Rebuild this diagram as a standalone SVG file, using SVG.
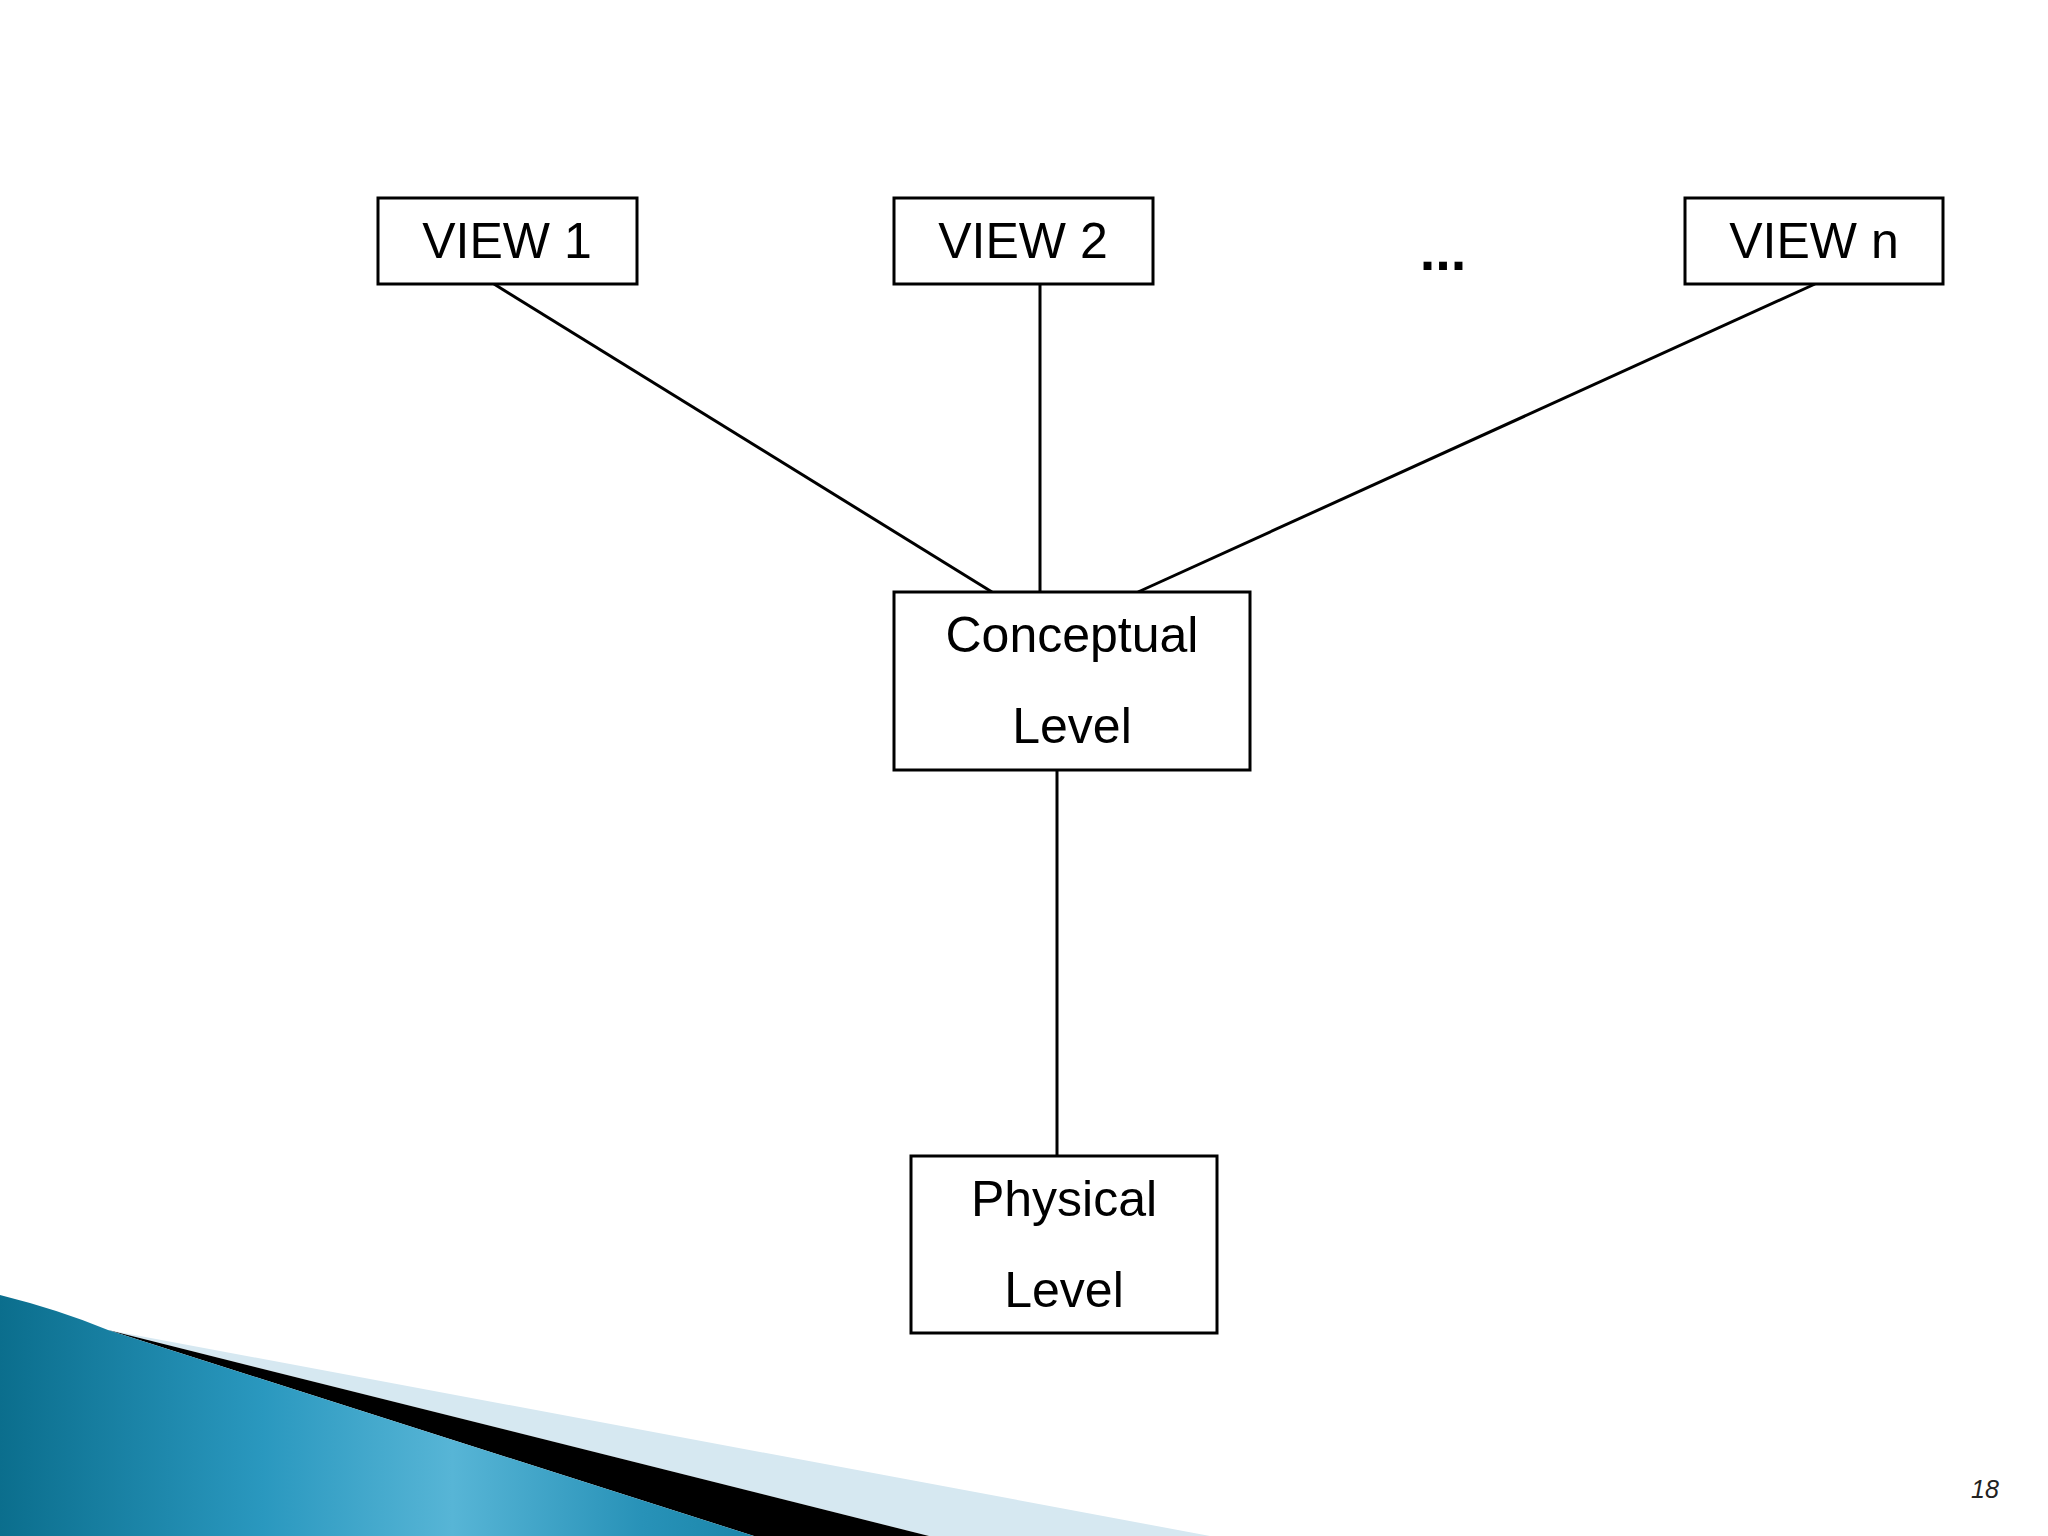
<svg xmlns="http://www.w3.org/2000/svg" width="2048" height="1536" viewBox="0 0 2048 1536">
<style>
.box{fill:#fff;stroke:#000;stroke-width:3}
.lbl{font-family:"Liberation Sans",Arial,sans-serif;font-size:50px;fill:#000;text-anchor:middle}
.conn line{stroke:#000;stroke-width:3}
</style>
<defs>
<linearGradient id="bg" x1="0" y1="0" x2="1" y2="0">
<stop offset="0" stop-color="#0b6e8d"/>
<stop offset="0.35" stop-color="#2a98bf"/>
<stop offset="0.6" stop-color="#57b5d6"/>
<stop offset="0.85" stop-color="#2892b8"/>
<stop offset="1" stop-color="#1a86aa"/>
</linearGradient>
</defs>
<rect width="2048" height="1536" fill="#fff"/>
<g id="decor">
<polygon points="108,1330 1210,1536 929,1536" fill="#d6e8f1"/>
<polygon points="108,1330 929,1536 754,1536" fill="#000"/>
<path d="M0,1295 Q60,1310 108,1330 L754,1536 L0,1536 Z" fill="url(#bg)"/>
</g>
<g class="conn" id="connectors">
<line x1="494" y1="284" x2="992" y2="592"/>
<line x1="1040" y1="284" x2="1040" y2="592"/>
<line x1="1815" y1="284" x2="1138" y2="592"/>
<line x1="1057" y1="770" x2="1057" y2="1156"/>
</g>
<g id="view1">
<rect class="box" x="378" y="198" width="259" height="86"/>
<text class="lbl" x="507" y="258">VIEW 1</text>
</g>
<g id="view2">
<rect class="box" x="894" y="198" width="259" height="86"/>
<text class="lbl" x="1023" y="258">VIEW 2</text>
</g>
<g id="dots">
<text x="1443" y="270" style="font-family:'Liberation Sans',Arial,sans-serif;font-size:56px;font-weight:bold;text-anchor:middle">...</text>
</g>
<g id="viewn">
<rect class="box" x="1685" y="198" width="258" height="86"/>
<text class="lbl" x="1814" y="258">VIEW n</text>
</g>
<g id="conceptual">
<rect class="box" x="894" y="592" width="356" height="178"/>
<text class="lbl" x="1072" y="652">Conceptual</text>
<text class="lbl" x="1072" y="743">Level</text>
</g>
<g id="physical">
<rect class="box" x="911" y="1156" width="306" height="177"/>
<text class="lbl" x="1064" y="1216">Physical</text>
<text class="lbl" x="1064" y="1307">Level</text>
</g>
<text x="1985" y="1498" style="font-family:'Liberation Sans',Arial,sans-serif;font-size:25px;font-style:italic;fill:#222;text-anchor:middle">18</text>
</svg>
